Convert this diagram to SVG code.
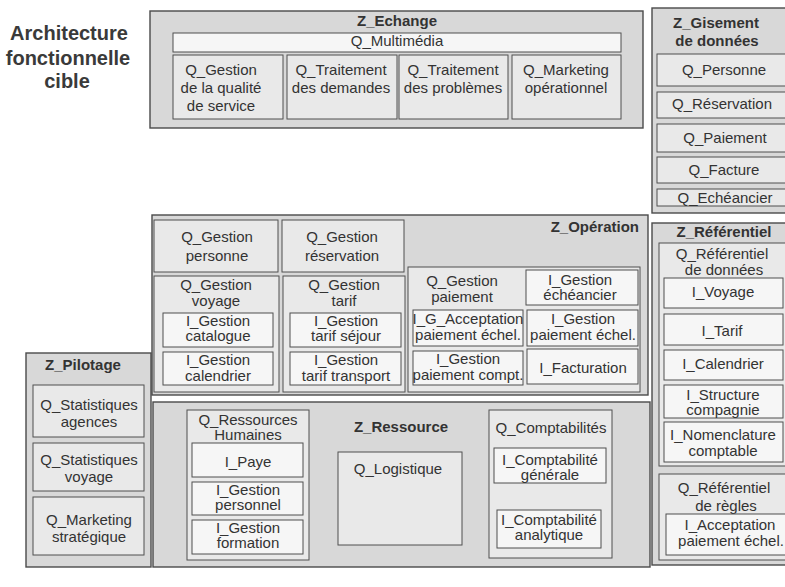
<svg xmlns="http://www.w3.org/2000/svg" width="785" height="587" viewBox="0 0 785 587">
<style>
  .zone{fill:#d8d8d8;stroke:#4a4a4a;stroke-width:1.4}
  .q{fill:#e9e9e9;stroke:#4f4f4f;stroke-width:1}
  .i{fill:#f6f6f6;stroke:#4f4f4f;stroke-width:1}
  text{font-family:"Liberation Sans",Arial,Helvetica,sans-serif;font-size:15px;fill:#333;text-anchor:middle}
  .b{font-weight:bold}
  .end{text-anchor:end}
  .title{font-size:20px;font-weight:bold;fill:#3a3a3a}
</style>
<rect width="785" height="587" fill="#ffffff"/>

<g id="title">
  <text class="title" x="69" y="40">Architecture</text>
  <text class="title" x="68" y="65">fonctionnelle</text>
  <text class="title" x="67" y="88">cible</text>
</g>

<!-- Exchange zone -->
<g id="z-echange">
  <rect class="zone" x="150" y="11" width="493" height="117"/>
  <text class="b" x="397" y="26">Z_Echange</text>
  <g id="q-multimedia">
    <rect class="i" x="173" y="33" width="448" height="19"/>
    <text x="397" y="46">Q_Multimédia</text>
  </g>
  <g id="q-gestion-qualite">
    <rect class="q" x="173" y="55" width="110" height="64"/>
    <text x="221" y="75">Q_Gestion</text>
    <text x="221" y="93">de la qualité</text>
    <text x="221" y="111">de service</text>
  </g>
  <g id="q-traitement-demandes">
    <rect class="q" x="287" y="55" width="110" height="64"/>
    <text x="341" y="75">Q_Traitement</text>
    <text x="341" y="93">des demandes</text>
  </g>
  <g id="q-traitement-problemes">
    <rect class="q" x="399" y="55" width="109" height="64"/>
    <text x="453" y="75">Q_Traitement</text>
    <text x="453" y="93">des problèmes</text>
  </g>
  <g id="q-marketing-operationnel">
    <rect class="q" x="512" y="55" width="109" height="64"/>
    <text x="566" y="75">Q_Marketing</text>
    <text x="566" y="93">opérationnel</text>
  </g>
</g>

<!-- Data deposit zone -->
<g id="z-gisement">
  <rect class="zone" x="652" y="8" width="140" height="205"/>
  <text class="b" x="716" y="28">Z_Gisement</text>
  <text class="b" x="717" y="46">de données</text>
  <g id="q-personne">
    <rect class="q" x="657" y="54" width="130" height="32"/>
    <text x="724" y="75">Q_Personne</text>
  </g>
  <g id="q-reservation">
    <rect class="q" x="657" y="92" width="130" height="26"/>
    <text x="722" y="109">Q_Réservation</text>
  </g>
  <g id="q-paiement">
    <rect class="q" x="657" y="124" width="130" height="28"/>
    <text x="725" y="143">Q_Paiement</text>
  </g>
  <g id="q-facture">
    <rect class="q" x="657" y="157" width="130" height="26"/>
    <text x="724" y="175">Q_Facture</text>
  </g>
  <g id="q-echeancier">
    <rect class="q" x="657" y="189" width="130" height="17"/>
    <text x="725" y="203">Q_Echéancier</text>
  </g>
</g>

<!-- Operations zone -->
<g id="z-operation">
  <rect class="zone" x="152" y="215" width="496" height="180"/>
  <text class="b end" x="639" y="232">Z_Opération</text>
  <g id="q-gestion-personne">
    <rect class="q" x="154" y="220" width="124" height="52"/>
    <text x="217" y="242">Q_Gestion</text>
    <text x="217" y="261">personne</text>
  </g>
  <g id="q-gestion-reservation">
    <rect class="q" x="282" y="220" width="122" height="52"/>
    <text x="342" y="242">Q_Gestion</text>
    <text x="342" y="261">réservation</text>
  </g>
  <g id="q-gestion-voyage">
    <rect class="q" x="154" y="276" width="125" height="116"/>
    <text x="216" y="290">Q_Gestion</text>
    <text x="216" y="306">voyage</text>
    <g id="i-gestion-catalogue">
      <rect class="i" x="163" y="313" width="110" height="34"/>
      <text x="218" y="326">I_Gestion</text>
      <text x="218" y="341">catalogue</text>
    </g>
    <g id="i-gestion-calendrier">
      <rect class="i" x="163" y="352" width="110" height="33"/>
      <text x="218" y="365">I_Gestion</text>
      <text x="218" y="381">calendrier</text>
    </g>
  </g>
  <g id="q-gestion-tarif">
    <rect class="q" x="283" y="276" width="122" height="116"/>
    <text x="344" y="290">Q_Gestion</text>
    <text x="344" y="306">tarif</text>
    <g id="i-gestion-tarif-sejour">
      <rect class="i" x="290" y="313" width="111" height="34"/>
      <text x="346" y="326">I_Gestion</text>
      <text x="346" y="341">tarif séjour</text>
    </g>
    <g id="i-gestion-tarif-transport">
      <rect class="i" x="290" y="352" width="111" height="33"/>
      <text x="346" y="365">I_Gestion</text>
      <text x="346" y="381">tarif transport</text>
    </g>
  </g>
  <g id="q-gestion-paiement">
    <rect class="q" x="408" y="267" width="232" height="125"/>
    <text x="462" y="286">Q_Gestion</text>
    <text x="462" y="302">paiement</text>
    <g id="i-gestion-echeancier">
      <rect class="i" x="526" y="270" width="112" height="35"/>
      <text x="580" y="285">I_Gestion</text>
      <text x="580" y="300">échéancier</text>
    </g>
    <g id="i-g-acceptation">
      <rect class="i" x="413" y="310" width="110" height="36"/>
      <text x="468" y="324">I_G_Acceptation</text>
      <text x="468" y="340">paiement échel.</text>
    </g>
    <g id="i-gestion-paiement-echel">
      <rect class="i" x="527" y="310" width="111" height="36"/>
      <text x="583" y="324">I_Gestion</text>
      <text x="583" y="340">paiement échel.</text>
    </g>
    <g id="i-gestion-paiement-compt">
      <rect class="i" x="413" y="351" width="110" height="34"/>
      <text x="468" y="364">I_Gestion</text>
      <text x="468" y="380">paiement compt.</text>
    </g>
    <g id="i-facturation">
      <rect class="i" x="527" y="349" width="111" height="35"/>
      <text x="583" y="373">I_Facturation</text>
    </g>
  </g>
</g>

<!-- Reference data zone -->
<g id="z-referentiel">
  <rect class="zone" x="652" y="223" width="140" height="342"/>
  <text class="b" x="724" y="237">Z_Référentiel</text>
  <g id="q-referentiel-donnees">
    <rect class="q" x="659" y="243" width="130" height="223"/>
    <text x="722" y="259">Q_Référentiel</text>
    <text x="724" y="275">de données</text>
    <g id="i-voyage">
      <rect class="i" x="664" y="278" width="119" height="30"/>
      <text x="723" y="297">I_Voyage</text>
    </g>
    <g id="i-tarif">
      <rect class="i" x="664" y="314" width="119" height="31"/>
      <text x="722" y="336">I_Tarif</text>
    </g>
    <g id="i-calendrier">
      <rect class="i" x="664" y="350" width="119" height="30"/>
      <text x="723" y="369">I_Calendrier</text>
    </g>
    <g id="i-structure-compagnie">
      <rect class="i" x="664" y="385" width="119" height="33"/>
      <text x="723" y="400">I_Structure</text>
      <text x="723" y="415">compagnie</text>
    </g>
    <g id="i-nomenclature-comptable">
      <rect class="i" x="664" y="422" width="119" height="40"/>
      <text x="723" y="440">I_Nomenclature</text>
      <text x="723" y="456">comptable</text>
    </g>
  </g>
  <g id="q-referentiel-regles">
    <rect class="q" x="659" y="474" width="130" height="86"/>
    <text x="724" y="493">Q_Référentiel</text>
    <text x="726" y="511">de règles</text>
    <g id="i-acceptation">
      <rect class="i" x="666" y="514" width="130" height="41"/>
      <text x="730" y="530">I_Acceptation</text>
      <text x="731" y="546">paiement échel.</text>
    </g>
  </g>
</g>

<!-- Steering zone -->
<g id="z-pilotage">
  <rect class="zone" x="26" y="353" width="125" height="214"/>
  <text class="b" x="83" y="370">Z_Pilotage</text>
  <g id="q-statistiques-agences">
    <rect class="q" x="33" y="385" width="111" height="52"/>
    <text x="89" y="410">Q_Statistiques</text>
    <text x="89" y="427">agences</text>
  </g>
  <g id="q-statistiques-voyage">
    <rect class="q" x="33" y="443" width="111" height="48"/>
    <text x="89" y="465">Q_Statistiques</text>
    <text x="89" y="482">voyage</text>
  </g>
  <g id="q-marketing-strategique">
    <rect class="q" x="33" y="497" width="111" height="58"/>
    <text x="89" y="525">Q_Marketing</text>
    <text x="89" y="542">stratégique</text>
  </g>
</g>

<!-- Resources zone -->
<g id="z-ressource">
  <rect class="zone" x="153" y="402" width="497" height="165"/>
  <text class="b" x="401" y="432">Z_Ressource</text>
  <g id="q-ressources-humaines">
    <rect class="q" x="187" y="410" width="122" height="150"/>
    <text x="248" y="425">Q_Ressources</text>
    <text x="248" y="440">Humaines</text>
    <g id="i-paye">
      <rect class="i" x="192" y="443" width="111" height="34"/>
      <text x="248" y="467">I_Paye</text>
    </g>
    <g id="i-gestion-personnel">
      <rect class="i" x="192" y="482" width="111" height="33"/>
      <text x="248" y="495">I_Gestion</text>
      <text x="248" y="510">personnel</text>
    </g>
    <g id="i-gestion-formation">
      <rect class="i" x="192" y="520" width="111" height="34"/>
      <text x="248" y="533">I_Gestion</text>
      <text x="248" y="548">formation</text>
    </g>
  </g>
  <g id="q-logistique">
    <rect class="q" x="338" y="452" width="124" height="93"/>
    <text x="398" y="474">Q_Logistique</text>
  </g>
  <g id="q-comptabilites">
    <rect class="q" x="489" y="410" width="123" height="148"/>
    <text x="551" y="433">Q_Comptabilités</text>
    <g id="i-comptabilite-generale">
      <rect class="i" x="494" y="448" width="112" height="35"/>
      <text x="550" y="465">I_Comptabilité</text>
      <text x="550" y="480">générale</text>
    </g>
    <g id="i-comptabilite-analytique">
      <rect class="i" x="497" y="510" width="104" height="38"/>
      <text x="549" y="525">I_Comptabilité</text>
      <text x="549" y="540">analytique</text>
    </g>
  </g>
</g>

<g id="connectors"/>
</svg>
